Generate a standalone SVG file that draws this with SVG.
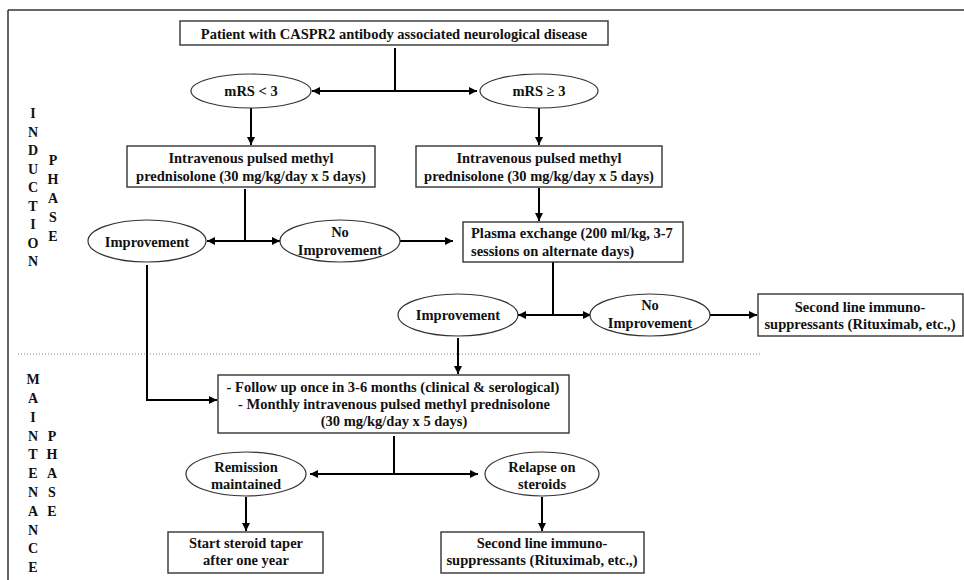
<svg xmlns="http://www.w3.org/2000/svg" width="964" height="580" viewBox="0 0 964 580" font-family="'Liberation Serif', 'Times New Roman', Times, serif">
<style>
  text { font-family: 'Liberation Serif', 'Times New Roman', Times, serif; font-weight: bold; font-size: 14.5px; fill: #111; }
  .c { text-anchor: middle; }
  .box { fill: #fff; stroke: #333; stroke-width: 1.4; }
  .ell { fill: #fff; stroke: #333; stroke-width: 1.2; }
  .ln { fill: none; stroke: #000; stroke-width: 2; }
  .arr { fill: none; stroke: #000; stroke-width: 2; marker-end: url(#ah); }
  .lbl { font-size: 14px; text-anchor: middle; }
</style>
<defs>
  <marker id="ah" markerUnits="userSpaceOnUse" markerWidth="9" markerHeight="8" refX="8" refY="4" orient="auto">
    <path d="M0,0 L8,4 L0,8 z" fill="#000"/>
  </marker>
</defs>
<rect x="0" y="0" width="964" height="580" fill="#fff"/>
<g id="frame">
  <line x1="8" y1="10" x2="964" y2="10" stroke="#333" stroke-width="1.5"/>
  <line x1="8" y1="10" x2="8" y2="580" stroke="#333" stroke-width="1.5"/>
  <line x1="18" y1="354" x2="760" y2="354" stroke="#888" stroke-width="1" stroke-dasharray="1,2"/>
</g>
<g id="phase-labels">
  <text class="lbl" x="33" y="118">I</text>
  <text class="lbl" x="33" y="136.5">N</text>
  <text class="lbl" x="33" y="155">D</text>
  <text class="lbl" x="33" y="173.5">U</text>
  <text class="lbl" x="33" y="192">C</text>
  <text class="lbl" x="33" y="210.5">T</text>
  <text class="lbl" x="33" y="229">I</text>
  <text class="lbl" x="33" y="247.5">O</text>
  <text class="lbl" x="33" y="266">N</text>
  <text class="lbl" x="53" y="165">P</text>
  <text class="lbl" x="53" y="184">H</text>
  <text class="lbl" x="53" y="203">A</text>
  <text class="lbl" x="53" y="222">S</text>
  <text class="lbl" x="53" y="241">E</text>
  <text class="lbl" x="33" y="384">M</text>
  <text class="lbl" x="33" y="403">A</text>
  <text class="lbl" x="33" y="421.5">I</text>
  <text class="lbl" x="33" y="440.5">N</text>
  <text class="lbl" x="33" y="459">T</text>
  <text class="lbl" x="33" y="478">E</text>
  <text class="lbl" x="33" y="497">N</text>
  <text class="lbl" x="33" y="515.5">A</text>
  <text class="lbl" x="33" y="534.5">N</text>
  <text class="lbl" x="33" y="553">C</text>
  <text class="lbl" x="33" y="572">E</text>
  <text class="lbl" x="52" y="440.5">P</text>
  <text class="lbl" x="52" y="459">H</text>
  <text class="lbl" x="52" y="478">A</text>
  <text class="lbl" x="52" y="497">S</text>
  <text class="lbl" x="52" y="515.5">E</text>
</g>
<g id="connectors">
  <line class="ln" x1="395" y1="48" x2="395" y2="91"/>
  <line class="arr" x1="395" y1="91" x2="312" y2="91"/>
  <line class="arr" x1="395" y1="91" x2="477" y2="91"/>
  <line class="arr" x1="251" y1="108" x2="251" y2="145"/>
  <line class="arr" x1="539" y1="108" x2="539" y2="145"/>
  <line class="ln" x1="245" y1="189" x2="245" y2="241"/>
  <line class="arr" x1="245" y1="241" x2="207" y2="241"/>
  <line class="arr" x1="245" y1="241" x2="280" y2="241"/>
  <line class="arr" x1="539" y1="188" x2="539" y2="221"/>
  <line class="arr" x1="400" y1="241" x2="453" y2="241"/>
  <line class="ln" x1="553" y1="262" x2="553" y2="315"/>
  <line class="arr" x1="553" y1="315" x2="518" y2="315"/>
  <line class="arr" x1="553" y1="315" x2="591" y2="315"/>
  <line class="arr" x1="710" y1="315" x2="757" y2="315"/>
  <line class="arr" x1="458" y1="338" x2="458" y2="374"/>
  <polyline class="arr" points="147,265 147,400 217,400"/>
  <line class="ln" x1="394" y1="436" x2="394" y2="474"/>
  <line class="arr" x1="394" y1="474" x2="310" y2="474"/>
  <line class="arr" x1="394" y1="474" x2="478" y2="474"/>
  <line class="arr" x1="246" y1="497" x2="246" y2="531"/>
  <line class="arr" x1="542" y1="497" x2="542" y2="531"/>
</g>
<g id="n-patient">
  <rect class="box" x="180" y="21" width="428" height="24"/>
  <text class="c" x="394" y="39">Patient with CASPR2 antibody associated neurological disease</text>
</g>
<g id="n-mrs-low">
  <ellipse class="ell" cx="251" cy="91" rx="60" ry="17"/>
  <text class="c" x="251" y="96">mRS &lt; 3</text>
</g>
<g id="n-mrs-high">
  <ellipse class="ell" cx="539" cy="91" rx="59" ry="17"/>
  <text class="c" x="539" y="96">mRS ≥ 3</text>
</g>
<g id="n-ivmp-left">
  <rect class="box" x="127" y="146" width="248" height="41"/>
  <text class="c" x="251" y="163">Intravenous pulsed methyl</text>
  <text class="c" x="251" y="181">prednisolone (30 mg/kg/day x 5 days)</text>
</g>
<g id="n-ivmp-right">
  <rect class="box" x="416" y="146" width="246" height="41"/>
  <text class="c" x="539" y="163">Intravenous pulsed methyl</text>
  <text class="c" x="539" y="181">prednisolone (30 mg/kg/day x 5 days)</text>
</g>
<g id="n-improvement-1">
  <ellipse class="ell" cx="147" cy="241" rx="59" ry="21"/>
  <text class="c" x="147" y="247">Improvement</text>
</g>
<g id="n-noimprovement-1">
  <ellipse class="ell" cx="340" cy="241" rx="60" ry="21"/>
  <text class="c" x="340" y="237">No</text>
  <text class="c" x="340" y="255">Improvement</text>
</g>
<g id="n-plasma">
  <rect class="box" x="463" y="222" width="220" height="40"/>
  <text x="471" y="238">Plasma exchange (200 ml/kg, 3-7</text>
  <text x="471" y="256">sessions on alternate days)</text>
</g>
<g id="n-improvement-2">
  <ellipse class="ell" cx="458" cy="315" rx="60" ry="21"/>
  <text class="c" x="458" y="320">Improvement</text>
</g>
<g id="n-noimprovement-2">
  <ellipse class="ell" cx="650" cy="315" rx="60" ry="21"/>
  <text class="c" x="650" y="310">No</text>
  <text class="c" x="650" y="328">Improvement</text>
</g>
<g id="n-secondline-1">
  <rect class="box" x="758" y="294" width="205" height="42"/>
  <text class="c" x="860" y="312">Second line immuno-</text>
  <text class="c" x="860" y="329">suppressants (Rituximab, etc.,)</text>
</g>
<g id="n-followup">
  <rect class="box" x="218" y="375" width="351" height="58"/>
  <text class="c" x="393" y="392">- Follow up once in 3-6 months (clinical &amp; serological)</text>
  <text class="c" x="394" y="409">- Monthly intravenous pulsed methyl prednisolone</text>
  <text class="c" x="394" y="426">(30 mg/kg/day x 5 days)</text>
</g>
<g id="n-remission">
  <ellipse class="ell" cx="246" cy="474" rx="60" ry="22"/>
  <text class="c" x="246" y="472">Remission</text>
  <text class="c" x="246" y="489">maintained</text>
</g>
<g id="n-relapse">
  <ellipse class="ell" cx="542" cy="474" rx="57" ry="22"/>
  <text class="c" x="542" y="472">Relapse on</text>
  <text class="c" x="542" y="489">steroids</text>
</g>
<g id="n-taper">
  <rect class="box" x="168" y="532" width="155" height="41"/>
  <text class="c" x="246" y="548">Start steroid taper</text>
  <text class="c" x="246" y="565">after one year</text>
</g>
<g id="n-secondline-2">
  <rect class="box" x="441" y="532" width="203" height="41"/>
  <text class="c" x="542" y="548">Second line immuno-</text>
  <text class="c" x="542" y="565">suppressants (Rituximab, etc.,)</text>
</g>
</svg>
